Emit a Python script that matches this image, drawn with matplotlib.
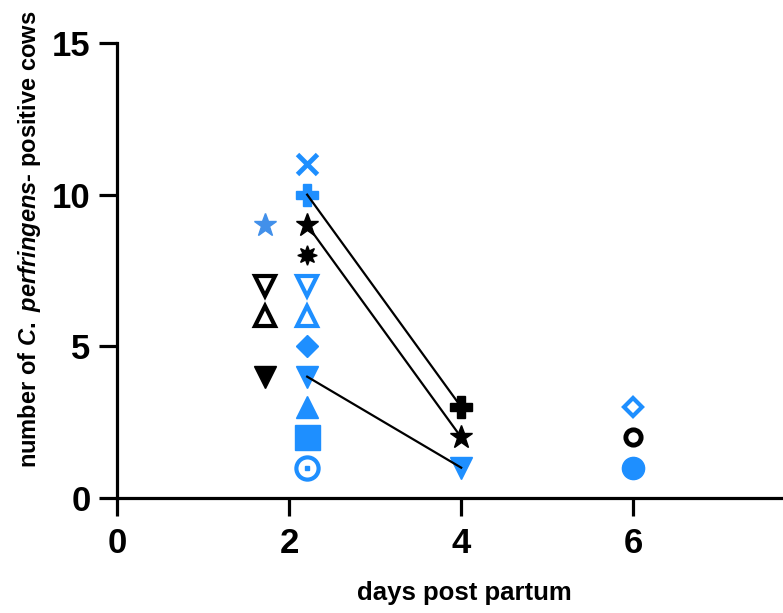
import matplotlib
matplotlib.use('Agg')
import matplotlib.pyplot as plt

plt.rcParams['font.family'] = 'Liberation Sans'
plt.rcParams['font.weight'] = 'bold'
plt.rcParams['mathtext.fontset'] = 'custom'
plt.rcParams['mathtext.it'] = 'Liberation Sans:italic:bold'
plt.rcParams['mathtext.rm'] = 'Liberation Sans:bold'

blue = '#1E8FFF'
lblue = '#4290EA'

# days post partum and counts
day_a = 1.72
counts_a = [9, 7, 6, 4]
day_b = 2.21
counts_b = [11, 10, 9, 8, 7, 6, 5, 4, 3, 2, 1]
day_c = 4
counts_c = [3, 2, 1]
day_d = 6
counts_d = [3, 2, 1]

# cows followed from day ~2 to day 4
pair_days = [day_b, day_c]
pair_start = [10, 9, 4]
pair_end = [3, 2, 1]

xticks = [0, 2, 4, 6]
yticks = [0, 5, 10, 15]

# marker styles, one per point
style_a = [
    dict(marker='*', ms=17, color=lblue, mec=lblue),
    dict(marker='v', ms=14, mfc='white', mec='black', mew=3),
    dict(marker='^', ms=14, mfc='white', mec='black', mew=3),
    dict(marker='v', ms=16, color='black'),
]
style_b = [
    dict(marker='x', ms=15, mec=blue, mew=3.5),
    dict(marker='P', ms=16, color=blue),
    dict(marker='*', ms=17, color='black'),
    dict(marker=(8, 1, 0), ms=14, color='black'),
    dict(marker='v', ms=14, mfc='white', mec=blue, mew=3),
    dict(marker='^', ms=14, mfc='white', mec=blue, mew=3),
    dict(marker='D', ms=11, color=blue),
    dict(marker='v', ms=16, color=blue),
    dict(marker='^', ms=16, color=blue),
    dict(marker='s', ms=18, color=blue),
    dict(marker='o', ms=16, mfc='white', mec=blue, mew=3),
]
style_c = [
    dict(marker='P', ms=16, color='black'),
    dict(marker='*', ms=17, color='black'),
    dict(marker='v', ms=16, color=blue),
]
style_d = [
    dict(marker='D', ms=9.5, mfc='white', mec=blue, mew=3),
    dict(marker='o', ms=11, mfc='white', mec='black', mew=3.5),
    dict(marker='o', ms=16, color=blue),
]

fig = plt.figure(figsize=(7.83, 6.13), dpi=100)
ax = fig.add_axes([117 / 783, 115 / 613, 666 / 783, 455 / 613])

for day, counts, styles in [(day_a, counts_a, style_a), (day_b, counts_b, style_b),
                            (day_c, counts_c, style_c), (day_d, counts_d, style_d)]:
    for c, st in zip(counts, styles):
        ax.plot([day], [c], linestyle='none', zorder=3, clip_on=False, **st)

# dot in the middle of the open circle
ax.plot([day_b], [counts_b[-1]], marker='s', ms=3.5, color=blue, linestyle='none', zorder=4)

for s, e in zip(pair_start, pair_end):
    ax.plot(pair_days, [s, e], color='black', lw=1.6, zorder=5)

ax.set_xlim(0, 7.74)
ax.set_ylim(0, 15)
ax.set_xticks(xticks)
ax.set_yticks(yticks)
ax.spines['top'].set_visible(False)
ax.spines['right'].set_visible(False)
ax.spines['left'].set_linewidth(2.3)
ax.spines['bottom'].set_linewidth(2.3)
ax.tick_params(width=2.3, length=13, labelsize=25)
ax.tick_params(axis='x', pad=8)
ax.tick_params(axis='y', pad=6)

ax.set_xlabel('days post partum', fontsize=18.5, fontweight='bold', va='center')
ax.xaxis.set_label_coords(464 / 783, 1 - 593 / 613, transform=fig.transFigure)
ax.set_ylabel(r'number of $C.\ perfringens$- positive cows', fontsize=17,
              fontweight='bold', va='center')
ax.yaxis.set_label_coords(30 / 783, 1 - 239 / 613, transform=fig.transFigure)

fig.savefig('out.png', dpi=100)
